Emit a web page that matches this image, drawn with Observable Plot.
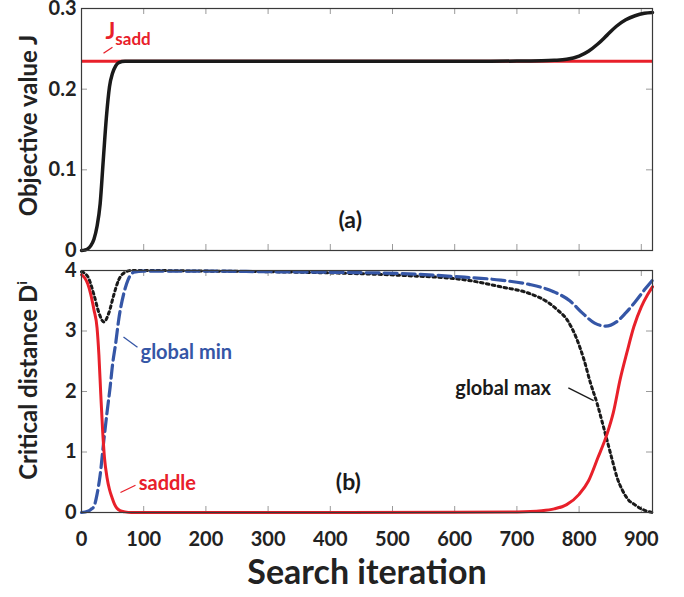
<!DOCTYPE html>
<html>
<head>
<meta charset="utf-8">
<script src="https://cdn.jsdelivr.net/npm/d3@7"></script>
<script src="https://cdn.jsdelivr.net/npm/@observablehq/plot@0.6"></script>
<style>
  body { margin: 0; background: #fff; }
  #chart { width: 684px; height: 597px; position: relative; }
  #chart svg { display: block; }
</style>
</head>
<body>
<div id="chart"></div>
<script>
// ---------- data ----------
const xTicks = [0, 100, 200, 300, 400, 500, 600, 700, 800, 900];
const yTicksA = [0, 0.1, 0.2, 0.3];
const yTicksB = [0, 1, 2, 3, 4];

const Jsadd = 0.2346;
const iterJ = [0, 5, 10, 15, 20, 25, 30, 35, 40, 45, 50, 55, 60, 70, 80, 100, 200, 300, 400, 500, 600, 700, 740, 760, 780, 800, 815, 830, 845, 860, 875, 890, 905, 918];
const objJ  = [0, 0.0005, 0.002, 0.006, 0.014, 0.03, 0.058, 0.112, 0.165, 0.203, 0.22, 0.229, 0.233, 0.2346, 0.2346, 0.2346, 0.2346, 0.2346, 0.2346, 0.2346, 0.2346, 0.2348, 0.2352, 0.2358, 0.237, 0.241, 0.247, 0.256, 0.267, 0.278, 0.286, 0.291, 0.294, 0.295];

const iterSaddle = [0, 5, 10, 15, 20, 25, 28, 31, 34, 37, 41, 45, 49, 53, 57, 62, 70, 80, 200, 400, 600, 700, 740, 760, 780, 800, 815, 830, 845, 855, 866, 877, 888, 900, 910, 918];
const distSaddle = [3.93, 3.88, 3.78, 3.6, 3.35, 3.05, 2.6, 1.95, 1.35, 0.9, 0.58, 0.38, 0.25, 0.14, 0.07, 0.03, 0.01, 0, 0, 0, 0.003, 0.01, 0.03, 0.06, 0.13, 0.3, 0.52, 0.9, 1.3, 1.65, 2.2, 2.65, 3.07, 3.4, 3.6, 3.73];

const iterMin = [0, 10, 15, 20, 25, 30, 36, 41, 46, 50, 55, 60, 68, 75, 84, 100, 200, 300, 400, 513, 600, 674, 720, 759, 785, 805, 825, 843, 860, 875, 890, 905, 918];
const distMin = [0, 0.02, 0.05, 0.1, 0.3, 0.62, 1.2, 1.65, 2.07, 2.45, 2.8, 3.2, 3.62, 3.85, 3.97, 3.99, 3.99, 3.98, 3.97, 3.95, 3.9, 3.84, 3.77, 3.65, 3.5, 3.3, 3.13, 3.08, 3.15, 3.3, 3.48, 3.68, 3.84];

const iterMax = [0, 10, 20, 28, 36, 44, 52, 60, 70, 80, 100, 200, 300, 400, 513, 620, 674, 720, 749, 765, 781, 795, 808, 818, 829, 837, 845, 853, 861, 870, 880, 888, 900, 910, 918];
const distMax = [3.98, 3.9, 3.6, 3.3, 3.15, 3.3, 3.6, 3.85, 3.97, 4.0, 4.0, 3.99, 3.98, 3.96, 3.92, 3.84, 3.73, 3.62, 3.48, 3.35, 3.18, 2.9, 2.52, 2.15, 1.8, 1.5, 1.19, 0.88, 0.58, 0.36, 0.2, 0.14, 0.06, 0.02, 0];

// annotation labels (data coordinates)
const panelLabels = [{x: 432, y: 0.037, text: "(a)"}, {x: 429, y: 0.5, text: "(b)"}];
const curveLabels = [
  {x: 95, y: 2.65, text: "global min", color: "#3556a6"},
  {x: 92, y: 0.48, text: "saddle", color: "#e8202a"},
  {x: 601, y: 2.05, text: "global max", color: "#1a1a1a"}
];
const leadersB = [
  {x1: 67.5, y1: 2.9, x2: 90, y2: 2.73, color: "#3556a6"},
  {x1: 62.7, y1: 0.33, x2: 86.8, y2: 0.45, color: "#e8202a"},
  {x1: 782.7, y1: 2.06, x2: 823.4, y2: 1.85, color: "#1a1a1a"}
];
const jsaddLabel = [{x: 38.5, y: 0.2715, text: "Jsadd"}];
const jsaddLeader = [{x1: 35.4, y1: 0.2445, x2: 49.8, y2: 0.252}];

// ---------- tables ----------
const J = iterJ.map((x, i) => ({x, y: objJ[i]}));
const saddle = iterSaddle.map((x, i) => ({x, y: distSaddle[i]}));
const gmin = iterMin.map((x, i) => ({x, y: distMin[i]}));
const gmax = iterMax.map((x, i) => ({x, y: distMax[i]}));

const RED = "#e8202a", BLUE = "#3556a6", INK = "#1a1a1a", TICK = "#9a9a9a", FRAME = "#3a3a3a";
const FONT = "Lato, 'Open Sans', sans-serif";
const W = 684, ML = 81, MR = 32;
const frameW = W - ML - MR, frameH = 242;
const tickLen = 6;

function boxTicks(yTicks) {
  return [
    Plot.tickX(xTicks.slice(1), {x: d => d, insetTop: frameH - tickLen, stroke: TICK, strokeWidth: 1}),
    Plot.tickX(xTicks.slice(1), {x: d => d, insetBottom: frameH - tickLen, stroke: TICK, strokeWidth: 1}),
    Plot.tickY(yTicks.slice(1, -1), {y: d => d, insetRight: frameW - tickLen, stroke: TICK, strokeWidth: 1}),
    Plot.tickY(yTicks.slice(1, -1), {y: d => d, insetLeft: frameW - tickLen, stroke: TICK, strokeWidth: 1})
  ];
}

const plotA = Plot.plot({
  width: W, height: 260,
  marginLeft: ML, marginRight: MR, marginTop: 8, marginBottom: 10,
  style: {fontFamily: FONT, fontWeight: 700, color: "#222", background: "#fff", overflow: "visible"},
  x: {domain: [0, 918], axis: null},
  y: {domain: [0, 0.3]},
  marks: [
    ...boxTicks(yTicksA),
    Plot.axisY(yTicksA, {tickSize: 0, tickPadding: 5, fontSize: 20, tickFormat: d => String(d), label: null}),
    Plot.ruleY([Jsadd], {stroke: RED, strokeWidth: 3}),
    Plot.line(J, {x: "x", y: "y", stroke: INK, strokeWidth: 3.5, curve: "monotone-x"}),
    Plot.frame({stroke: FRAME, strokeWidth: 1.2}),
    Plot.text(panelLabels.slice(0, 1), {x: "x", y: "y", text: "text", fontSize: 23, fill: INK}),
    Plot.text(jsaddLabel, {x: "x", y: "y", text: "text", textAnchor: "start", fontSize: 23, fill: RED, className: "jsadd"}),
    Plot.link(jsaddLeader, {x1: "x1", y1: "y1", x2: "x2", y2: "y2", stroke: RED, strokeWidth: 1.3}),
    Plot.text(["Objective value J"], {frameAnchor: "left", textAnchor: "middle", rotate: -90, dx: -52, dy: -4, fontSize: 24, fill: "#222"})
  ]
});

const plotB = Plot.plot({
  width: W, height: 337,
  marginLeft: ML, marginRight: MR, marginTop: 10, marginBottom: 85,
  style: {fontFamily: FONT, fontWeight: 700, color: "#222", background: "#fff", overflow: "visible"},
  x: {domain: [0, 918], label: null},
  y: {domain: [0, 4]},
  marks: [
    ...boxTicks(yTicksB),
    Plot.axisY(yTicksB, {tickSize: 0, tickPadding: 5, fontSize: 20, tickFormat: d => String(d), label: null}),
    Plot.axisX(xTicks, {tickSize: 0, tickPadding: 19, fontSize: 20, tickFormat: d => String(d), label: null}),
    Plot.line(gmax, {x: "x", y: "y", stroke: INK, strokeWidth: 3, strokeDasharray: "2.6,3.4", curve: "monotone-x"}),
    Plot.line(gmin, {x: "x", y: "y", stroke: BLUE, strokeWidth: 3.2, strokeDasharray: "13,5", curve: "monotone-x"}),
    Plot.line(saddle, {x: "x", y: "y", stroke: RED, strokeWidth: 3, curve: "monotone-x"}),
    Plot.frame({stroke: FRAME, strokeWidth: 1.2}),
    Plot.link(leadersB, {x1: "x1", y1: "y1", x2: "x2", y2: "y2", stroke: "color", strokeWidth: 1.3}),
    Plot.text(panelLabels.slice(1), {x: "x", y: "y", text: "text", fontSize: 23, fill: INK}),
    Plot.text(curveLabels, {x: "x", y: "y", text: "text", fill: "color", textAnchor: "start", fontSize: 20}),
    Plot.text(["Critical distance Di"], {frameAnchor: "left", textAnchor: "middle", rotate: -90, dx: -52, dy: -11, fontSize: 24, fill: "#222", className: "dtitle"}),
    Plot.text(["Search iteration"], {frameAnchor: "bottom", dy: 71, fontSize: 34, fill: "#222"})
  ]
});

// rich text: subscript / superscript
d3.select(plotA).selectAll(".jsadd text").each(function() {
  const t = d3.select(this); t.text("");
  t.append("tspan").text("J");
  t.append("tspan").attr("font-size", 17).attr("dy", 6).text("sadd");
});
d3.select(plotB).selectAll(".dtitle text").each(function() {
  const t = d3.select(this); t.text("");
  t.append("tspan").text("Critical distance D");
  t.append("tspan").attr("font-size", 14).attr("dy", -10).text("i");
});

const chart = document.getElementById("chart");
chart.appendChild(plotA);
chart.appendChild(plotB);
</script>
</body>
</html>
